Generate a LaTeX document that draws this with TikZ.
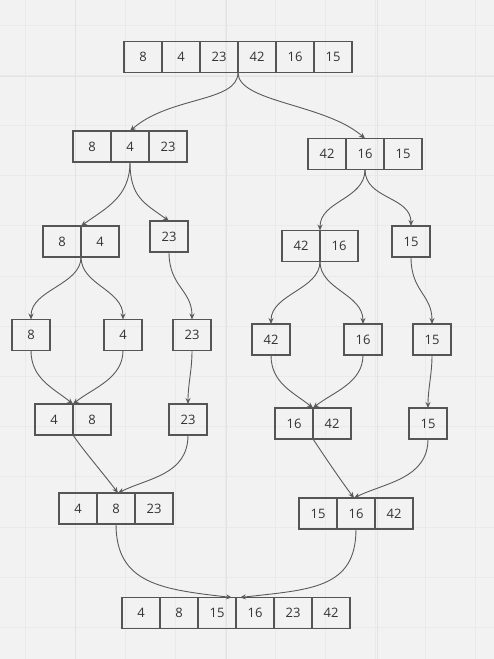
\documentclass[tikz,border=0pt]{standalone}
\usepackage{fontspec}
\setmainfont{Open Sans}
\usetikzlibrary{arrows.meta,positioning}
\definecolor{bg}{HTML}{F2F2F2}
\definecolor{gridminor}{HTML}{EAEAEA}
\definecolor{gridmajor}{HTML}{E3E3E3}
\definecolor{boxc}{HTML}{555555}
\definecolor{linec}{HTML}{5A5A5A}
\definecolor{txt}{HTML}{333333}
\tikzset{
  cell/.style={draw=boxc, line width=1.2pt, minimum width=38pt, minimum height=31pt,
    inner sep=0pt, outer sep=0pt, text=txt, font=\fontsize{13}{15}\selectfont},
  conn/.style={draw=linec, line width=0.9pt, -{Stealth[length=6pt,width=5pt]}}
}
\begin{document}
\begin{tikzpicture}[x=1pt,y=-1pt]
\fill[bg] (0,0) rectangle (494,659);
\useasboundingbox (0,0) rectangle (494,659);
\foreach \i in {0,...,9} {
  \draw[gridminor, line width=0.8pt] (25+50*\i,0) -- (25+50*\i,659);
}
\foreach \i in {0,...,12} {
  \draw[gridminor, line width=0.8pt] (0,25+50.2*\i) -- (494,25+50.2*\i);
}
\foreach \i in {0,1,2} {
  \draw[gridmajor, line width=1pt] (75+151*\i,0) -- (75+151*\i,659);
}
\draw[gridmajor, line width=1pt] (0,76) -- (494,76);

% top row
\node[cell, anchor=west] (t1) at (124,57) {8};
\node[cell, right=0pt of t1] (t2) {4};
\node[cell, right=0pt of t2] (t3) {23};
\node[cell, right=0pt of t3] (t4) {42};
\node[cell, right=0pt of t4] (t5) {16};
\node[cell, right=0pt of t5] (t6) {15};
% level 2
\node[cell, anchor=west] (a1) at (73,146.5) {8};
\node[cell, right=0pt of a1] (a2) {4};
\node[cell, right=0pt of a2] (a3) {23};
\node[cell, anchor=west] (b1) at (308,154) {42};
\node[cell, right=0pt of b1] (b2) {16};
\node[cell, right=0pt of b2] (b3) {15};
% level 3
\node[cell, anchor=west] (c1) at (43,241.5) {8};
\node[cell, right=0pt of c1] (c2) {4};
\node[cell, anchor=west] (d1) at (150,236.5) {23};
\node[cell, anchor=west] (e1) at (282,246) {42};
\node[cell, right=0pt of e1] (e2) {16};
\node[cell, anchor=west] (f1) at (392,241.5) {15};
% level 4
\node[cell, anchor=west] (g1) at (12,335) {8};
\node[cell, anchor=west] (h1) at (104,335) {4};
\node[cell, anchor=west] (i1) at (173,335) {23};
\node[cell, anchor=west] (j1) at (252,339.5) {42};
\node[cell, anchor=west] (k1) at (344,339.5) {16};
\node[cell, anchor=west] (l1) at (413,339.5) {15};
% level 5
\node[cell, anchor=west] (m1) at (35,419.5) {4};
\node[cell, right=0pt of m1] (m2) {8};
\node[cell, anchor=west] (n1) at (169,419.5) {23};
\node[cell, anchor=west] (o1) at (275,423.5) {16};
\node[cell, right=0pt of o1] (o2) {42};
\node[cell, anchor=west] (p1) at (409,423.5) {15};
% level 6
\node[cell, anchor=west] (q1) at (59,508.5) {4};
\node[cell, right=0pt of q1] (q2) {8};
\node[cell, right=0pt of q2] (q3) {23};
\node[cell, anchor=west] (r1) at (299,513.5) {15};
\node[cell, right=0pt of r1] (r2) {16};
\node[cell, right=0pt of r2] (r3) {42};
% bottom
\node[cell, anchor=west] (s1) at (122,613) {4};
\node[cell, right=0pt of s1] (s2) {8};
\node[cell, right=0pt of s2] (s3) {15};
\node[cell, right=0pt of s3] (s4) {16};
\node[cell, right=0pt of s4] (s5) {23};
\node[cell, right=0pt of s5] (s6) {42};

% connectors
\draw[conn] (t3.south east) .. controls +(0,30) and +(40,-35) .. (a2.north);
\draw[conn] (t3.south east) .. controls +(0,30) and +(-40,-35) .. (b2.north);

\draw[conn] (a2.south) .. controls +(0,35) and +(25,-18) .. (c1.north east);
\draw[conn] (a2.south) .. controls +(0,35) and +(-25,-18) .. (d1.north);
\draw[conn] (b2.south) .. controls +(0,30) and +(0,-30) .. (e1.north east);
\draw[conn] (b2.south) .. controls +(0,30) and +(0,-30) .. (f1.north);

\draw[conn] (c1.south east) .. controls +(0,28) and +(0,-30) .. (g1.north);
\draw[conn] (c1.south east) .. controls +(0,28) and +(0,-30) .. (h1.north);
\draw[conn] (d1.south) .. controls +(0,35) and +(0,-30) .. (i1.north);
\draw[conn] (e1.south east) .. controls +(0,28) and +(0,-30) .. (j1.north);
\draw[conn] (e1.south east) .. controls +(0,28) and +(0,-30) .. (k1.north);
\draw[conn] (f1.south) .. controls +(0,35) and +(0,-30) .. (l1.north);

\draw[conn] (g1.south) .. controls +(0,28) and +(-20,-16) .. (m1.north east);
\draw[conn] (h1.south) .. controls +(0,28) and +(20,-16) .. (m1.north east);
\draw[conn] (i1.south) .. controls +(0,20) and +(0,-20) .. (n1.north);
\draw[conn] (j1.south) .. controls +(0,28) and +(-20,-16) .. (o1.north east);
\draw[conn] (k1.south) .. controls +(0,28) and +(20,-16) .. (o1.north east);
\draw[conn] (l1.south) .. controls +(0,20) and +(0,-20) .. (p1.north);

\draw[conn] (m1.south east) .. controls +(10,15) and +(-15,-20) .. ([xshift=2pt]q2.north);
\draw[conn] (n1.south) .. controls +(0,40) and +(30,-15) .. ([xshift=2pt]q2.north);
\draw[conn] (o1.south east) .. controls +(10,15) and +(-15,-20) .. ([xshift=-2pt]r2.north);
\draw[conn] (p1.south) .. controls +(0,40) and +(30,-15) .. ([xshift=-2pt]r2.north);

\draw[conn] (q2.south) .. controls +(0,60) and +(-70,-8) .. ([xshift=-4pt]s3.north east);
\draw[conn] (r2.south) .. controls +(0,60) and +(70,-8) .. ([xshift=4pt]s3.north east);
\end{tikzpicture}
\end{document}
